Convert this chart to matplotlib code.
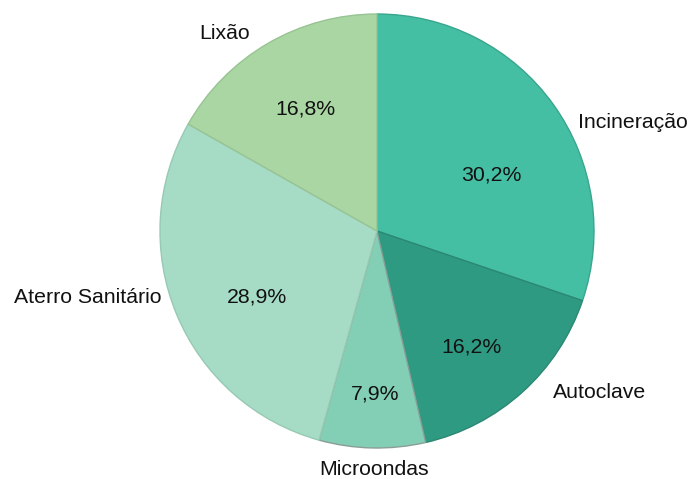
import matplotlib
matplotlib.use("Agg")
import matplotlib.pyplot as plt
import numpy as np

categories = ["Incineração", "Autoclave", "Microondas", "Aterro Sanitário", "Lixão"]
values = [30.2, 16.2, 7.9, 28.9, 16.8]
pct_labels = ["30,2%", "16,2%", "7,9%", "28,9%", "16,8%"]

colors = ["#45BFA4", "#2F9A82", "#82CFB5", "#A6DCC6", "#A9D6A3"]
edges = ["#3AA58D", "#2A8873", "#8A9E97", "#97C9B3", "#98C393"]
# label placement (angle deg, radius) in pie units
pct_pos = [(26.2, 0.585), (-51, 0.69), (-90.7, 0.75), (-151, 0.63), (120.4, 0.65)]
name_pos = [(23, 1.28), (-36, 1.27), (-90.7, 1.10), (-167, 1.37), (127.7, 1.15)]

plt.rcParams['font.family'] = ['Liberation Sans', 'DejaVu Sans']

fig = plt.figure(figsize=(6.93, 4.79), dpi=100)
ax = fig.add_axes([160/693, 31/479, 434/693, 434/479])
wedges, _ = ax.pie(values, colors=colors, startangle=90, counterclock=False,
                   radius=1.0, wedgeprops=dict(linewidth=1.0))
for w, ec in zip(wedges, edges):
    w.set_edgecolor(ec)

for lab, (ang, r) in zip(pct_labels, pct_pos):
    a = np.deg2rad(ang)
    ax.text(r*np.cos(a), r*np.sin(a), lab, ha="center", va="center",
            fontsize=15.3, color="#111111")

for name, (ang, r) in zip(categories, name_pos):
    a = np.deg2rad(ang)
    ax.text(r*np.cos(a), r*np.sin(a), name, ha="center", va="center",
            fontsize=15.3, color="#111111")

ax.set_xlim(-1, 1)
ax.set_ylim(-1, 1)
ax.set_aspect("equal")
ax.axis("off")
fig.savefig("out.png", dpi=100)
